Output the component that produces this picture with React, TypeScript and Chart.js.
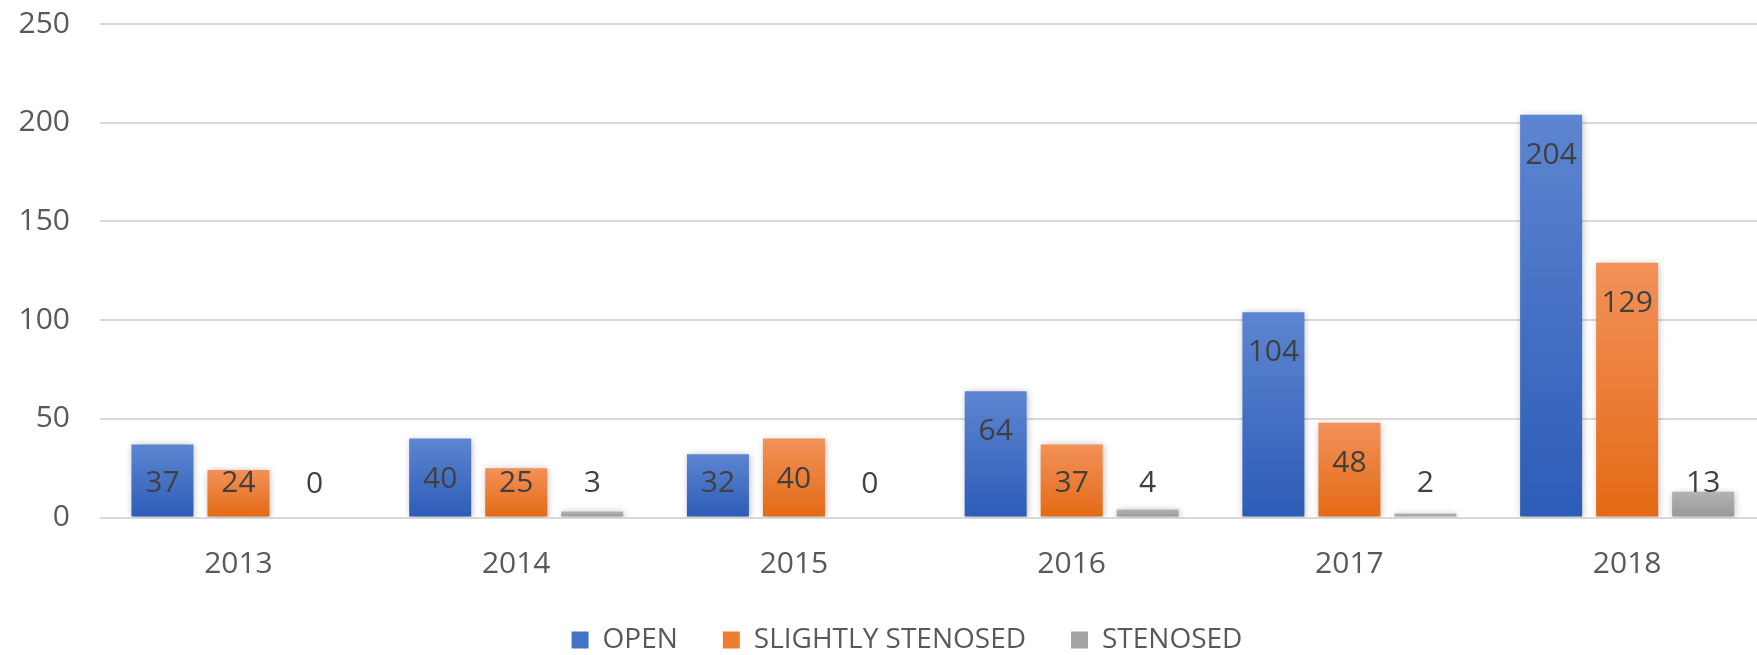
import React, { useEffect, useRef } from "react";
import { Chart, registerables } from "chart.js";

Chart.register(...registerables);

const categories = ["2013", "2014", "2015", "2016", "2017", "2018"];
const openValues = [37, 40, 32, 64, 104, 204];
const slightlyValues = [24, 25, 40, 37, 48, 129];
const stenosedValues = [0, 3, 0, 4, 2, 13];
const seriesNames = ["OPEN", "SLIGHTLY STENOSED", "STENOSED"];
const yTicks = [0, 50, 100, 150, 200, 250];

const FONT = "'Open Sans', 'Liberation Sans', sans-serif";
const CANVAS_W = 1814;
const CANVAS_H = 670;

const palettes = [
  { top: "#5d85d1", bottom: "#2d5cb7", solid: "#4472c4" },
  { top: "#f29159", bottom: "#e46a14", solid: "#ed7d31" },
  { top: "#b3b3b3", bottom: "#979797", solid: "#a5a5a5" },
];

function gradientFor(idx: number) {
  return (ctx: any) => {
    const chart = ctx.chart;
    const p = palettes[idx];
    const y = chart.scales && chart.scales.y;
    if (!y || ctx.type !== "data" || !chart.chartArea) return p.solid;
    const top = y.getPixelForValue(ctx.raw);
    const base = y.getPixelForValue(0);
    if (!isFinite(top) || !isFinite(base) || base - top < 1) return p.solid;
    const g = chart.ctx.createLinearGradient(0, top, 0, base);
    g.addColorStop(0, p.top);
    g.addColorStop(1, p.bottom);
    return g;
  };
}

const labelPlugin = {
  id: "barLabels",
  beforeDatasetsDraw(chart: any) {
    const c = chart.ctx;
    c.save();
    c.shadowColor = "rgba(0,0,0,0.28)";
    c.shadowBlur = 7;
    c.shadowOffsetX = 1;
    c.shadowOffsetY = 1;
  },
  afterDatasetsDraw(chart: any) {
    const c = chart.ctx;
    c.restore();
    c.save();
    c.font = `30px ${FONT}`;
    c.fillStyle = "#404040";
    c.textAlign = "center";
    c.textBaseline = "middle";
    chart.data.datasets.forEach((ds: any, di: number) => {
      const meta = chart.getDatasetMeta(di);
      meta.data.forEach((el: any, i: number) => {
        const { x, y, base } = el.getProps(["x", "y", "base"], true);
        const cy = Math.min(y + 40.5, base - 33.5);
        c.fillText(String(ds.data[i]), x, cy);
      });
    });
    c.restore();
  },
};

export default function App() {
  const ref = useRef<HTMLCanvasElement | null>(null);

  useEffect(() => {
    if (!ref.current) return;
    const chart = new Chart(ref.current, {
      type: "bar",
      data: {
        labels: categories,
        datasets: [openValues, slightlyValues, stenosedValues].map((vals, i) => ({
          label: seriesNames[i],
          data: vals,
          backgroundColor: gradientFor(i),
          borderWidth: 0,
          categoryPercentage: 0.821,
          barPercentage: 0.816,
        })),
      },
      options: {
        animation: false,
        responsive: false,
        devicePixelRatio: 1,
        layout: { padding: { left: 0, right: 0, top: 24, bottom: 6 } },
        font: { family: FONT },
        plugins: {
          tooltip: { enabled: false },
          legend: {
            position: "bottom",
            labels: {
              font: { family: FONT, size: 28 },
              color: "#595959",
              boxWidth: 17,
              boxHeight: 17,
              padding: 45,
              generateLabels: (ch: any) =>
                seriesNames.map((name, i) => ({
                  text: name,
                  fillStyle: palettes[i].solid,
                  strokeStyle: palettes[i].solid,
                  lineWidth: 0,
                  hidden: !ch.isDatasetVisible(i),
                  datasetIndex: i,
                  fontColor: "#595959",
                })),
            },
          },
        },
        scales: {
          x: {
            grid: { display: false, drawTicks: false },
            border: { display: false },
            ticks: { font: { family: FONT, size: 30 }, color: "#595959", padding: 29 },
            afterFit: (s: any) => {
              s.height = 63.5;
            },
          },
          y: {
            min: 0,
            max: 250,
            afterBuildTicks: (s: any) => {
              s.ticks = yTicks.map((v) => ({ value: v }));
            },
            grid: { color: "#d9d9d9", lineWidth: 2, drawTicks: false },
            border: { display: false },
            ticks: { font: { family: FONT, size: 30 }, color: "#595959", padding: 29.6 },
            afterFit: (s: any) => {
              s.width = 99.6;
              s.paddingTop = 0;
              s.paddingBottom = 0;
            },
          },
          yRight: {
            type: "linear",
            position: "right",
            display: true,
            grid: { display: false, drawTicks: false },
            border: { display: false },
            ticks: { display: false },
            afterFit: (s: any) => {
              s.width = 48;
            },
          },
        },
      },
      plugins: [labelPlugin],
    });
    return () => chart.destroy();
  }, []);

  return (
    <div
      style={{
        position: "absolute",
        left: 0,
        top: 0,
        width: 1757,
        height: 655,
        overflow: "hidden",
        background: "#ffffff",
      }}
    >
      <canvas
        ref={ref}
        width={CANVAS_W}
        height={CANVAS_H}
        style={{ display: "block", width: CANVAS_W, height: CANVAS_H }}
      />
    </div>
  );
}
